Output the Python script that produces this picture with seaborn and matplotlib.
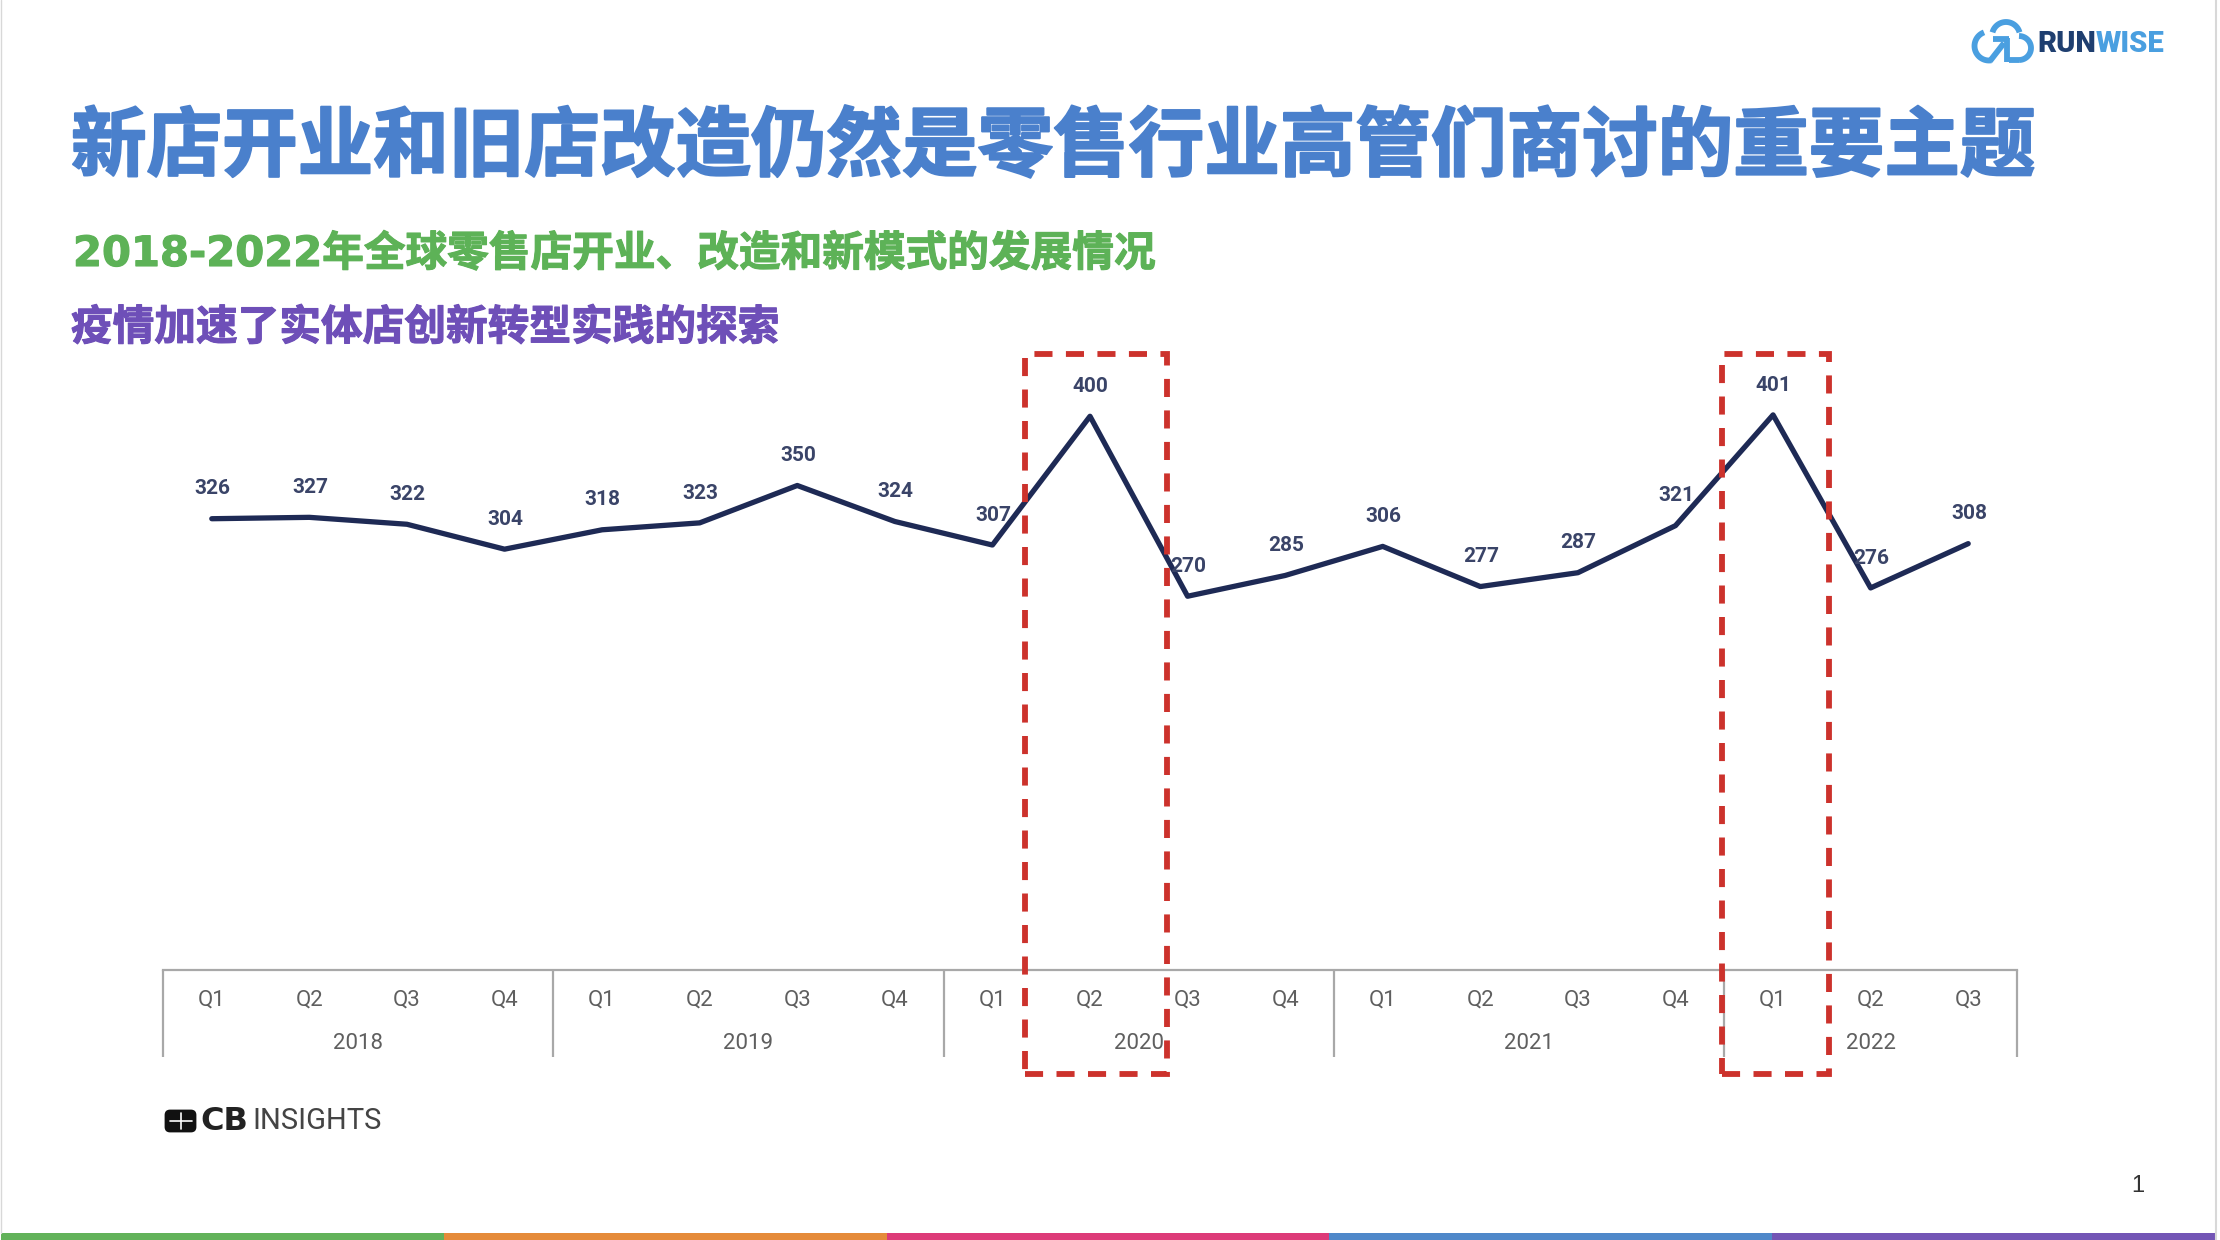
import numpy as np
import matplotlib
matplotlib.use('Agg')
import matplotlib.pyplot as plt
import matplotlib.patheffects as pe
from matplotlib.patches import Rectangle, FancyBboxPatch
import seaborn as sns

# 数据
quarters = ['Q1', 'Q2', 'Q3', 'Q4', 'Q1', 'Q2', 'Q3', 'Q4', 'Q1', 'Q2', 'Q3', 'Q4',
            'Q1', 'Q2', 'Q3', 'Q4', 'Q1', 'Q2', 'Q3']
values = [326, 327, 322, 304, 318, 323, 350, 324, 307, 400, 270, 285,
          306, 277, 287, 321, 401, 276, 308]
years = ['2018', '2019', '2020', '2021', '2022']
quarters_per_year = [4, 4, 4, 4, 3]

title = '新店开业和旧店改造仍然是零售行业高管们商讨的重要主题'
subtitle = '2018-2022年全球零售店开业、改造和新模式的发展情况'
subtitle2 = '疫情加速了实体店创新转型实践的探索'
bar_colors = ['#62B25A', '#E58B3A', '#DD3B78', '#4F88C9', '#7355B5']

W, H = 2220, 1240
cjk = ['Noto Sans CJK SC', 'DejaVu Sans']
navy = '#1E2A55'
red = '#CC322C'

sns.set_theme(style='white')
plt.rcParams['font.family'] = ['Roboto', 'DejaVu Sans']

fig = plt.figure(figsize=(W / 100, H / 100), dpi=100, facecolor='white')

# 折线图
ax = fig.add_axes([163 / W, 1 - 970 / H, (2017 - 163) / W, (970 - 300) / H])
ax.patch.set_alpha(0)
pos = np.arange(len(values))
sns.lineplot(x=pos, y=values, ax=ax, color=navy, linewidth=3.8)
ax.set_xlim(-0.5, len(values) - 0.5)
ax.set_ylim(0, 484)
ax.set_xticks(pos, quarters, fontsize=16, color='#5F5F5F')
ax.tick_params(axis='x', length=0, pad=14)
ax.set_yticks([])
ax.set_xlabel('')
ax.set_ylabel('')
sns.despine(ax=ax, left=True, right=True, top=True)
ax.spines['bottom'].set_color('#A8A8A8')
ax.spines['bottom'].set_linewidth(1.6)

for x, v in zip(pos, values):
    ax.annotate(str(v), (x, v), xytext=(0.5, 21.5), textcoords='offset points',
                ha='center', va='center', fontsize=15, fontweight='bold', color='#3A4468')

edges = np.concatenate([[0], np.cumsum(quarters_per_year)]) - 0.5
ax.vlines(edges, -63, 0, color='#A8A8A8', linewidth=1.6, clip_on=False)
for year, a, b in zip(years, edges[:-1], edges[1:]):
    ax.text((a + b) / 2, -53, year, ha='center', va='center', fontsize=16, color='#5F5F5F')

# 红色虚线框
for x0, x1 in [(8.33, 9.79), (15.48, 16.57)]:
    ax.add_patch(Rectangle((x0, -75), x1 - x0, 520, fill=False, edgecolor=red, linewidth=4.2,
                           linestyle=(0, (3.1, 2.3)), clip_on=False, zorder=6))

# 覆盖层: 像素坐标
ov = fig.add_axes([0, 0, 1, 1])
ov.set_xlim(0, W)
ov.set_ylim(H, 0)
ov.axis('off')
ov.patch.set_alpha(0)

t = ov.text(71, 148, title, family=cjk, fontsize=54.4, fontweight='bold', color='#4A80CC', va='center')
t.set_path_effects([pe.withStroke(linewidth=1.5, foreground='#4A80CC')])
t = ov.text(73, 254, subtitle, family=['DejaVu Sans', 'Noto Sans CJK SC'], fontsize=30,
            fontweight='bold', color='#5DB257', va='center')
t.set_path_effects([pe.withStroke(linewidth=0.8, foreground='#5DB257')])
t = ov.text(71, 328, subtitle2, family=cjk, fontsize=30, fontweight='bold', color='#6E4FB8', va='center')
t.set_path_effects([pe.withStroke(linewidth=0.8, foreground='#6E4FB8')])

# 底部色条
bar_w = 2214 / len(bar_colors)
for i, c in enumerate(bar_colors):
    ov.add_patch(Rectangle((1 + i * bar_w, 1233), bar_w, 7, facecolor=c, edgecolor='none'))
ov.plot([0.5, 0.5], [0, 1233], color='#D8D8D8', lw=1)
ov.plot([2216, 2216], [0, 1240], color='#D8D8D8', lw=1.5)
ov.text(2138, 1186, '1', family=['Liberation Sans', 'DejaVu Sans'], fontsize=17, color='#333333',
        ha='center', va='center')

# CB Insights 标志
ov.add_patch(FancyBboxPatch((166, 1111), 29, 20, boxstyle='round,pad=0,rounding_size=4',
                            facecolor='#111111', edgecolor='#111111', lw=2))
ov.plot([170, 192], [1121, 1121], color='white', lw=1.2)
ov.plot([181, 181], [1113, 1129], color='white', lw=1.2)
ov.text(200, 1121, 'CB', family=['DejaVu Sans'], fontsize=23, fontweight='bold', color='#222222', va='center')
ov.text(252, 1121, 'INSIGHTS', fontsize=21, fontweight='normal', color='#444444', va='center',
        family=['Roboto', 'DejaVu Sans'])

# RUNWISE 标志
def arc(cx, cy, r, a0, a1):
    t = np.radians(np.linspace(a0, a1, 30))
    return cx + r * np.cos(t), cy + r * np.sin(t)

blue = '#4A9FE0'
for cx, cy, r, a0, a1 in [(1989, 46, 14.5, 80, 250), (2006, 36, 14, 195, 345), (2019, 48, 12, 270, 450)]:
    xs, ys = arc(cx, cy, r, a0, a1)
    ov.plot(xs, ys, color=blue, lw=4.2, solid_capstyle='butt')
ov.plot([2009, 2019], [60, 60], color=blue, lw=4.2, solid_capstyle='butt')
ov.plot([1990, 2004], [61, 43], color=blue, lw=4.2, solid_capstyle='butt')
ov.plot([2007, 2007], [62, 38], color=blue, lw=4.2, solid_capstyle='butt')
ov.plot([1993, 2009], [39, 39], color=blue, lw=4.2, solid_capstyle='butt')
ov.text(2037, 44, 'RUN', fontsize=21, fontweight='black', color='#1F3F70', va='center')
ov.text(2096, 44, 'WISE', fontsize=21, fontweight='black', color='#4A9FE0', va='center')

plt.savefig('out.png', dpi=100)
